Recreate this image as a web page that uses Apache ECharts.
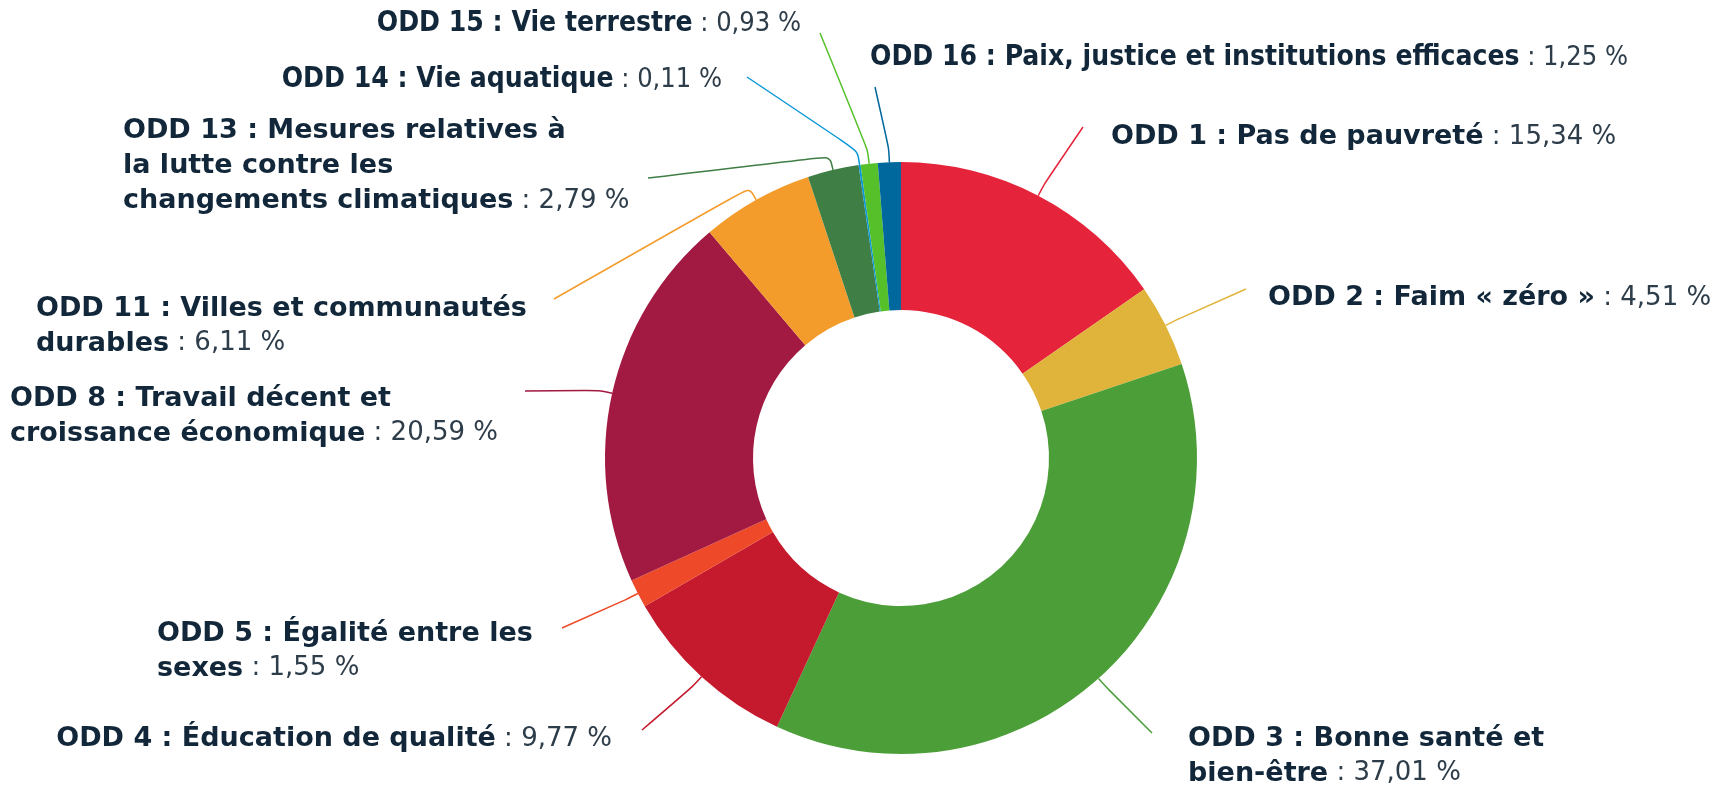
<!DOCTYPE html>
<html>
<head>
<meta charset="utf-8">
<script src="https://cdn.jsdelivr.net/npm/echarts@6.0.0/dist/echarts.min.js"></script>
<style>
  html, body { margin: 0; padding: 0; background: #fff; }
  #chart { width: 1721px; height: 787px; }
</style>
</head>
<body>
<div id="chart"></div>
<script>
  const categories = [
    'ODD 1 : Pas de pauvreté',
    'ODD 2 : Faim « zéro »',
    'ODD 3 : Bonne santé et\nbien-être',
    'ODD 4 : Éducation de qualité',
    'ODD 5 : Égalité entre les\nsexes',
    'ODD 8 : Travail décent et\ncroissance économique',
    'ODD 11 : Villes et communautés\ndurables',
    'ODD 13 : Mesures relatives à\nla lutte contre les\nchangements climatiques',
    'ODD 14 : Vie aquatique',
    'ODD 15 : Vie terrestre',
    'ODD 16 : Paix, justice et institutions efficaces'
  ]
  const shares = [15.34, 4.51, 37.01, 9.77, 1.55, 20.59, 6.11, 2.79, 0.11, 0.93, 1.25]

  const colors = ['#E5243B', '#E0B33A', '#4C9F38', '#C5192D', '#EE4A2A', '#A21942',
    '#F39C2B', '#3F7E44', '#0A97D9', '#56C02B', '#00689D']

  // where each label sits: x, y, align, then the end of its line
  const labelSpots = [
    [1111, 137, 'left', 1083, 127],
    [1268, 298, 'left', 1246, 289],
    [1188, 756, 'left', 1152, 733],
    [612, 739, 'right', 642, 730],
    [157, 651, 'left', 562, 628],
    [10, 416, 'left', 525, 391],
    [36, 326, 'left', 554, 299],
    [123, 166, 'left', 648, 178],
    [722, 80, 'right', 747, 77],
    [801, 24, 'right', 820, 33],
    [870, 58, 'left', 875, 87]
  ]
  // the three top labels are set in a narrower face
  const narrowLabels = [8, 9, 10]

  const fmt = (v) => v.toFixed(2).replace('.', ',')

  const chart = echarts.init(document.getElementById('chart'))

  const condensed = "'DejaVu Sans Condensed', 'DejaVu Sans'"

  const option = {
    animation: false,
    backgroundColor: '#fff',
    series: [
      {
        type: 'pie',
        center: [901, 458],
        radius: [148, 296],
        startAngle: 90,
        clockwise: true,
        avoidLabelOverlap: false,
        data: categories.map((name, i) => ({
          name,
          value: shares[i],
          itemStyle: { color: colors[i] }
        })),
        itemStyle: { borderWidth: 0 },
        label: {
          show: true,
          position: 'outer',
          alignTo: 'none',
          formatter: (p) => {
            const n = narrowLabels.includes(p.dataIndex)
            return `{${n ? 'bn' : 'b'}|${p.name}}{${n ? 'vn' : 'v'}| : ${fmt(p.value)} %}`
          },
          rich: {
            b: {
              fontFamily: 'DejaVu Sans',
              fontWeight: 'bold',
              fontSize: 27,
              lineHeight: 35,
              color: '#12283a'
            },
            v: {
              fontFamily: 'DejaVu Sans',
              fontSize: 26,
              lineHeight: 35,
              color: '#2e3d4a'
            },
            bn: {
              fontFamily: condensed,
              fontWeight: 'bold',
              fontSize: 28,
              lineHeight: 35,
              color: '#12283a'
            },
            vn: {
              fontFamily: condensed,
              fontSize: 27,
              lineHeight: 35,
              color: '#2e3d4a'
            }
          }
        },
        labelLine: {
          show: true,
          length: 14,
          length2: 10,
          smooth: 0.3,
          lineStyle: { width: 1.5 }
        },
        labelLayout: (params) => {
          const s = labelSpots[params.dataIndex]
          const pts = params.labelLinePoints
          return {
            x: s[0],
            y: s[1],
            align: s[2],
            verticalAlign: 'middle',
            labelLinePoints: [pts[0], pts[1], [s[3], s[4]]]
          }
        },
        emphasis: { disabled: true }
      }
    ]
  }

  chart.setOption(option)
  window.addEventListener('resize', () => chart.resize())
</script>
</body>
</html>
